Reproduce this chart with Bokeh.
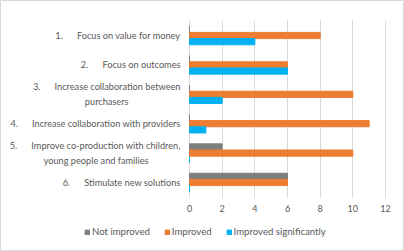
from bokeh.plotting import figure
from bokeh.models import ColumnDataSource, Range1d, Legend, LegendItem, FixedTicker, LinearAxis
from bokeh.transform import dodge
from bokeh.embed import file_html
from bokeh.resources import INLINE

NB = "\u00a0"
categories = [
    "1." + NB * 6 + "Focus on value for money",
    "2." + NB * 6 + "Focus on outcomes",
    "3." + NB * 6 + "Increase collaboration between\npurchasers",
    "4." + NB * 6 + "Increase collaboration with providers",
    "5." + NB * 6 + "Improve co-production with children,\nyoung people and families",
    "6." + NB * 6 + "Stimulate new solutions",
]
not_improved = [0, 0, 0, 0, 2, 6]
improved = [8, 6, 10, 11, 10, 6]
improved_significantly = [4, 6, 2, 1, 0, 0]
series_names = ["Not improved", "Improved", "Improved significantly"]
colors = ["#7f7f7f", "#ed7d31", "#00b0f0"]
x_ticks = [0, 2, 4, 6, 8, 10, 12]
FONT = "Lato"
TXT = "#595959"
LABEL_SIZE = "9.2px"

# category k (top to bottom) sits at y = -k
ypos = [-(i + 1) for i in range(len(categories))]
src = ColumnDataSource(dict(y=ypos, ni=not_improved, im=improved, isg=improved_significantly))

p = figure(width=404, height=251, output_backend="svg", toolbar_location=None,
           x_range=Range1d(-11.571, 13.163), y_range=Range1d(-8.347, 0.190),
           min_border=0, min_border_left=0, min_border_right=0, min_border_top=0, min_border_bottom=0)

bw = 0.21
r1 = p.hbar(y=dodge("y", bw), right="ni", left=0, height=bw, source=src, color=colors[0])
r2 = p.hbar(y=dodge("y", 0), right="im", left=0, height=bw, source=src, color=colors[1])
r3 = p.hbar(y=dodge("y", -bw), right="isg", left=0, height=bw, source=src, color=colors[2])

p.outline_line_color = "#d9d9d9"
p.ygrid.grid_line_color = None
p.xgrid.grid_line_color = "#d9d9d9"
p.xgrid.ticker = FixedTicker(ticks=x_ticks)
p.xgrid.cross_bounds = (-6.5, -0.5)


def style(ax, size):
    ax.axis_line_color = None
    ax.major_tick_line_color = None
    ax.minor_tick_line_color = None
    ax.major_tick_out = 0
    ax.major_tick_in = 0
    ax.major_label_text_color = TXT
    ax.major_label_text_font = FONT
    ax.major_label_text_font_size = size
    ax.major_label_text_line_height = 1.33


p.xaxis.ticker = FixedTicker(ticks=x_ticks)
p.xaxis.fixed_location = -6.5
p.xaxis.major_label_standoff = 8
style(p.xaxis[0], "9px")

# first lines on the main category axis (right aligned); second lines centred below
first_lines = {}
second_lines = {}
for y, c in zip(ypos, categories):
    parts = c.split("\n")
    first_lines[y] = parts[0] + ("\n" + NB if len(parts) > 1 else "")
    if len(parts) > 1:
        second_lines[y] = parts[1]

p.yaxis.ticker = FixedTicker(ticks=ypos)
p.yaxis.major_label_overrides = first_lines
p.yaxis.fixed_location = 0
p.yaxis.major_label_standoff = 9
style(p.yaxis[0], LABEL_SIZE)

second_standoff = {-3: 61, -5: 41}
for y, line in second_lines.items():
    ax = LinearAxis(ticker=FixedTicker(ticks=[y]), fixed_location=0,
                    major_label_overrides={y: NB + "\n" + line},
                    major_label_standoff=second_standoff[y])
    style(ax, LABEL_SIZE)
    p.add_layout(ax, "left")

legend = Legend(items=[LegendItem(label=n, renderers=[r]) for n, r in zip(series_names, [r1, r2, r3])],
                orientation="horizontal", location=(84, 14),
                label_text_font=FONT, label_text_font_size="9.6px", label_text_color=TXT,
                glyph_width=6, glyph_height=6, label_standoff=2, spacing=14,
                label_height=9, background_fill_alpha=0, border_line_color=None, padding=0,
                margin=0)
p.add_layout(legend, "center")

open("out.html", "w").write(file_html(p, INLINE))
